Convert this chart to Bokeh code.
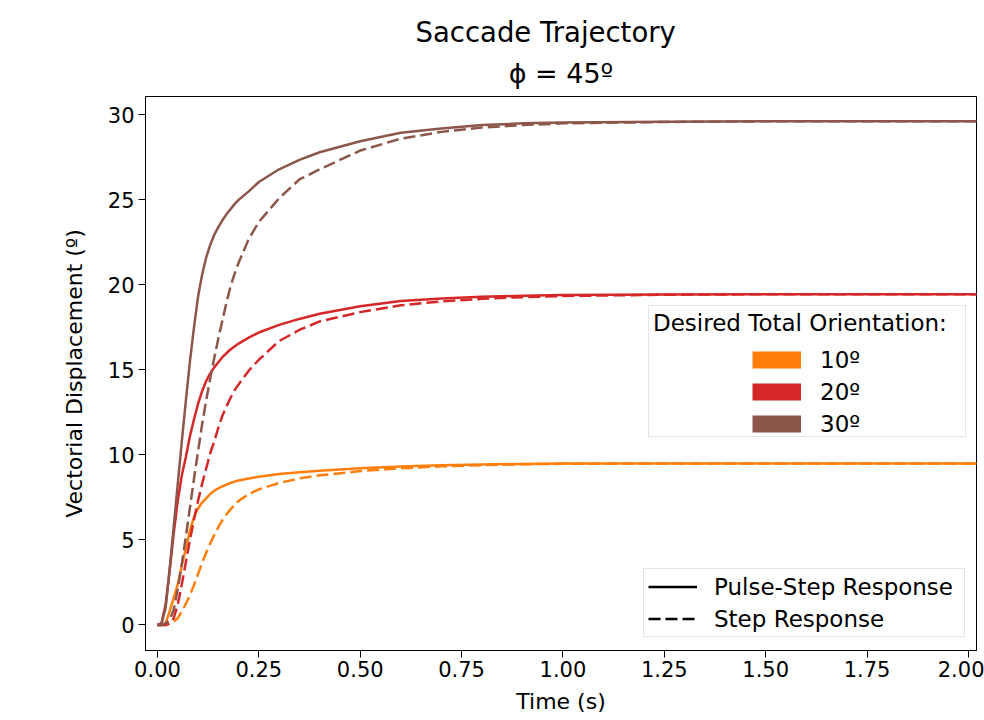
import math
from bokeh.plotting import figure
from bokeh.models import (Range1d, FixedTicker, NumeralTickFormatter, Legend,
                          LegendItem, Title)
from bokeh.embed import file_html
from bokeh.resources import INLINE

# ---------------- data ----------------
time_s = [0, 0.01, 0.02, 0.03, 0.04, 0.05, 0.06, 0.07, 0.08, 0.09, 0.10, 0.11,
          0.12, 0.13, 0.14, 0.15, 0.16, 0.17, 0.18, 0.19, 0.20, 0.225, 0.25,
          0.30, 0.35, 0.40, 0.50, 0.60, 0.70, 0.80, 0.90, 1.00, 1.25, 1.50,
          1.75, 2.05]

pulse_step_10 = [0, 0, 0.1, 0.8, 1.6, 2.4, 3.5, 4.5, 5.55, 6.35, 6.85, 7.2,
                 7.45, 7.7, 7.9, 8.03, 8.15, 8.25, 8.35, 8.43, 8.5, 8.62, 8.72,
                 8.88, 8.98, 9.07, 9.22, 9.32, 9.4, 9.44, 9.47, 9.49, 9.5, 9.5,
                 9.5, 9.5]
step_10 = [0, 0, 0, 0.1, 0.2, 0.4, 0.8, 1.25, 1.75, 2.35, 3.0, 3.65,
           4.25, 4.8, 5.3, 5.75, 6.15, 6.5, 6.8, 7.05, 7.3, 7.7, 7.98,
           8.35, 8.62, 8.8, 9.05, 9.22, 9.33, 9.4, 9.45, 9.48, 9.5, 9.5,
           9.5, 9.5]

pulse_step_20 = [0, 0.1, 1.2, 3.2, 5.4, 7.3, 8.8, 9.9, 11.1, 12.1, 13.0, 13.75,
                 14.35, 14.8, 15.15, 15.45, 15.75, 15.98, 16.2, 16.38, 16.55,
                 16.9, 17.2, 17.65, 18.0, 18.3, 18.75, 19.05, 19.2, 19.3, 19.36,
                 19.4, 19.43, 19.45, 19.45, 19.45]
step_20 = [0, 0, 0, 0.1, 0.4, 1.2, 2.4, 3.7, 5.0, 6.2, 7.3, 8.3,
           9.2, 10.1, 10.8, 11.6, 12.3, 12.85, 13.35, 13.8, 14.15, 14.95,
           15.6, 16.7, 17.35, 17.85, 18.4, 18.8, 19.03, 19.18, 19.28, 19.35,
           19.42, 19.45, 19.45, 19.45]

pulse_step_30 = [0, 0.1, 1.0, 3.3, 5.8, 8.3, 10.8, 13.2, 15.5, 17.5, 19.3, 20.6,
                 21.6, 22.35, 22.95, 23.4, 23.8, 24.15, 24.45, 24.75, 25.0, 25.5,
                 26.05, 26.8, 27.35, 27.8, 28.45, 28.95, 29.2, 29.4, 29.5, 29.55,
                 29.6, 29.62, 29.62, 29.62]
step_30 = [0, 0, 0.1, 0.3, 0.9, 2.1, 3.6, 5.2, 6.9, 8.6, 10.2, 11.8,
           13.2, 14.5, 15.7, 16.85, 17.9, 18.95, 19.9, 20.65, 21.3, 22.7,
           23.7, 25.1, 26.2, 26.8, 27.9, 28.6, 29.0, 29.25, 29.4, 29.5,
           29.58, 29.62, 29.62, 29.62]

orientations = ["10º", "20º", "30º"]
colors = ["#ff7f0e", "#d62728", "#8c564b"]
pulse_step_series = [pulse_step_10, pulse_step_20, pulse_step_30]
step_series = [step_10, step_20, step_30]
x_ticks = [0, 0.25, 0.5, 0.75, 1.0, 1.25, 1.5, 1.75, 2.0]
y_ticks = [0, 5, 10, 15, 20, 25, 30]
response_labels = ["Pulse-Step Response", "Step Response"]

FONT = "DejaVu Sans"
DASH = "12 5"
LW = 2.5

p = figure(width=984, height=720, x_range=Range1d(-0.0296, 2.02),
           y_range=Range1d(-1.5, 31.08), output_backend="svg",
           toolbar_location=None, title=None,
           min_border_left=145, min_border_right=8, min_border_top=96,
           min_border_bottom=70)
p.background_fill_color = "white"
p.border_fill_color = "white"
p.outline_line_color = "black"
p.outline_line_width = 1
p.xgrid.visible = False
p.ygrid.visible = False

for ax in (p.xaxis[0], p.yaxis[0]):
    ax.axis_line_color = "black"
    ax.major_tick_line_color = "black"
    ax.minor_tick_line_color = None
    ax.major_tick_out = 7
    ax.major_tick_in = 0
    ax.major_label_text_font = FONT
    ax.major_label_text_font_size = "21px"
    ax.major_label_text_color = "#000000"
    ax.axis_label_text_font = FONT
    ax.axis_label_text_font_size = "22px"
    ax.axis_label_text_font_style = "normal"
    ax.axis_label_text_color = "#000000"

p.xaxis.ticker = FixedTicker(ticks=x_ticks)
p.xaxis.formatter = NumeralTickFormatter(format="0.00")
p.yaxis.ticker = FixedTicker(ticks=y_ticks)
p.xaxis.axis_label = "Time (s)"
p.yaxis.axis_label = "Vectorial Displacement (º)"
p.xaxis.major_label_standoff = 3
p.yaxis.major_label_standoff = 4
p.xaxis.axis_label_standoff = 9
p.yaxis.axis_label_standoff = 18

# data lines
for ps, st, c in zip(pulse_step_series, step_series, colors):
    p.line(time_s, ps, line_color=c, line_width=LW)
    p.line(time_s, st, line_color=c, line_width=LW, line_dash=DASH)

# titles
p.add_layout(Title(text="ϕ = 45º", align="center", text_font=FONT,
                   text_font_size="27px", text_font_style="normal",
                   text_color="#000000", standoff=16), "above")
p.add_layout(Title(text="Saccade Trajectory", align="left", offset=270,
                   text_font=FONT, text_font_size="27.5px",
                   text_font_style="normal", text_color="#000000",
                   standoff=0), "above")

nan = float("nan")

# legend 1: frame + title (ghost rows), then colored patches on top
ghost = p.line(x=[nan], y=[nan], line_alpha=0)
legend_a = Legend(items=[LegendItem(label=" ", renderers=[ghost]) for _ in orientations],
                  title="Desired Total Orientation:", location=(503, 213),
                  title_text_font=FONT, title_text_font_size="23px",
                  title_text_font_style="normal", title_text_color="#000000",
                  title_standoff=5, label_text_font=FONT, label_text_font_size="23px",
                  glyph_width=49, glyph_height=27, label_height=27, label_standoff=19,
                  label_width=240, spacing=5, padding=4, margin=0,
                  border_line_color="#cccccc", border_line_width=1,
                  background_fill_color="white", background_fill_alpha=0.8)
p.add_layout(legend_a, "center")

patch_items = []
for lab, c in zip(orientations, colors):
    r = p.line(x=[nan], y=[nan], line_color=c, line_width=17, line_cap="butt")
    patch_items.append(LegendItem(label=lab, renderers=[r]))
legend_b = Legend(items=patch_items, location=(607, 213),
                  label_text_font=FONT, label_text_font_size="23px",
                  label_text_color="#000000",
                  glyph_width=49, glyph_height=27, label_height=27, label_standoff=19,
                  spacing=5, padding=4, margin=0,
                  border_line_color=None, background_fill_alpha=0)
p.add_layout(legend_b, "center")

# legend 2: line styles
r_solid = p.line(x=[nan], y=[nan], line_color="black", line_width=LW)
r_dash = p.line(x=[nan], y=[nan], line_color="black", line_width=LW, line_dash=DASH)
legend_c = Legend(items=[LegendItem(label=response_labels[0], renderers=[r_solid]),
                         LegendItem(label=response_labels[1], renderers=[r_dash])],
                  location=(498, 13),
                  label_text_font=FONT, label_text_font_size="23px",
                  label_text_color="#000000",
                  glyph_width=49, glyph_height=27, label_height=27, label_standoff=17,
                  label_width=246, spacing=5, padding=4, margin=0,
                  border_line_color="#cccccc", border_line_width=1,
                  background_fill_color="white", background_fill_alpha=0.8)
p.add_layout(legend_c, "center")

open("out.html", "w").write(file_html(p, INLINE))
